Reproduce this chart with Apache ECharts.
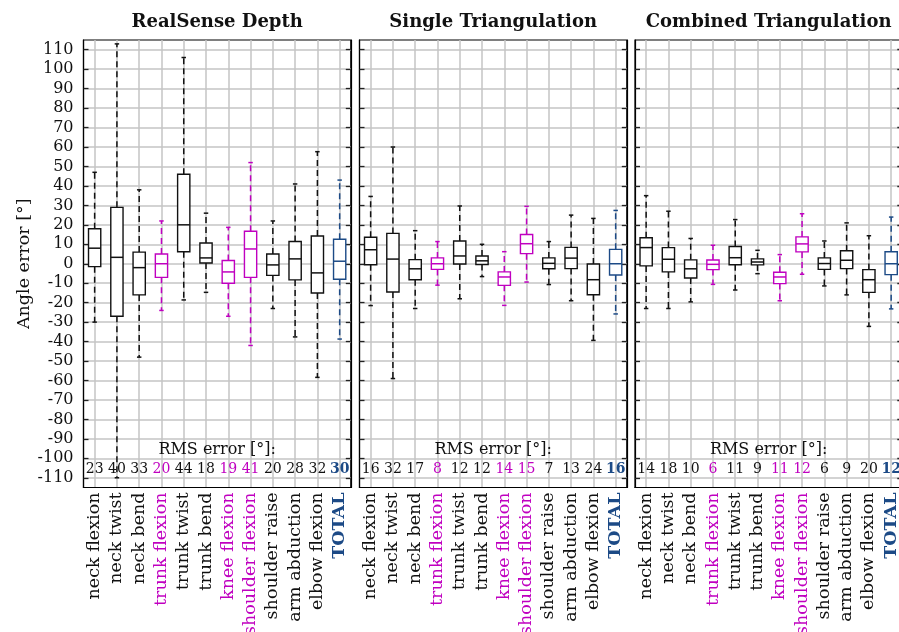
<!DOCTYPE html>
<html><head><meta charset="utf-8">
<script src="https://cdn.jsdelivr.net/npm/echarts@6/dist/echarts.min.js"></script>
<style>html,body{margin:0;padding:0;background:#fff}#c{width:899px;height:632px}</style>
</head><body><div id="c"></div><script>
const categories = ['neck flexion','neck twist','neck bend','trunk flexion','trunk twist','trunk bend','knee flexion','shoulder flexion','shoulder raise','arm abduction','elbow flexion','TOTAL'];
const panelTitles = ['RealSense Depth','Single Triangulation','Combined Triangulation'];
const yTicks = [-110,-100,-90,-80,-70,-60,-50,-40,-30,-20,-10,0,10,20,30,40,50,60,70,80,90,100,110];
// each box: [lower whisker, Q1, median, Q3, upper whisker]
const realsenseBoxes = [
  [-30,-1.5,8,18,47],[-110,-27,3.3,29,113],[-48,-16,-2,6,38],[-24,-7,0,5,22],
  [-18.6,6.2,20,46,106],[-14.7,0.4,3,10.7,26],[-27,-10,-4.2,1.7,18.7],[-42,-7,7.6,16.7,52],
  [-23,-6,-0.6,5,22],[-37.6,-8.3,2.5,11.4,41],[-58.4,-15,-4.7,14.3,57.6],[-38.7,-8,1.3,12.6,43]
];
const singleBoxes = [
  [-21.5,-0.5,7.2,13.6,34.6],[-59,-14.5,2.4,15.6,60],[-23,-8.2,-2.6,2.1,17],[-11,-2.9,0,3,11.4],
  [-18,-0.1,4,11.7,29.7],[-6.6,-0.4,1.5,4,10],[-21.4,-11.1,-6.8,-4.2,6.2],[-9.4,5.2,10.3,15,29.5],
  [-10.7,-2.6,0.2,3,11.4],[-19,-2.5,2.9,8.4,25],[-39.4,-15.9,-8.2,-0.1,23.3],[-25.8,-5.8,0,7.4,27.4]
];
const combinedBoxes = [
  [-23,-1.1,8.3,13.4,35],[-23,-4.2,2.3,8.3,27],[-19.6,-7.3,-2.6,2,13],[-10.6,-3,-0.3,1.9,9.5],
  [-13.5,-0.5,3.1,8.9,22.7],[-5.1,-0.6,0.9,2.5,6.9],[-19,-10.2,-6.8,-4.4,4.7],[-5.4,6.1,10.2,13.8,25.7],
  [-11.4,-2.9,0.1,3,11.7],[-16,-2.5,1.8,6.7,21],[-32.2,-14.7,-8.2,-3,14.4],[-23.2,-5.6,0,6.2,24]
];
const realsenseRms = [23,40,33,20,44,18,19,41,20,28,32,30];
const singleRms = [16,32,17,8,12,12,14,15,7,13,24,16];
const combinedRms = [14,18,10,6,11,9,11,12,6,9,20,12];
const magentaCats = ['trunk flexion','knee flexion','shoulder flexion'];
const totalCat = 'TOTAL';

const BLACK = '#111', MAGENTA = '#c000c0', BLUE = '#1c4a86', GRID = '#c4c4c4';
const FONT = 'DejaVu Serif';
function catStyle(name){ return name === totalCat ? 't' : (magentaCats.includes(name) ? 'm' : 'n'); }
function catColor(name){ return name === totalCat ? BLUE : (magentaCats.includes(name) ? MAGENTA : BLACK); }

const boxesList = [realsenseBoxes, singleBoxes, combinedBoxes];
const rmsList = [realsenseRms, singleRms, combinedRms];
const gridLefts = [83.5, 359.5, 635];
const gridW = 267.3, gridTop = 40, gridH = 447.5;
const catIndex = categories.map((c,k)=>k);

function richFor(size){
  return {
    n:{color:BLACK,fontFamily:FONT,fontSize:size},
    m:{color:MAGENTA,fontFamily:FONT,fontSize:size},
    t:{color:BLUE,fontFamily:FONT,fontSize:size,fontWeight:'bold'}
  };
}

function renderItem(params, api){
  const idx = api.value(0);
  const pLo = api.coord([idx, api.value(1)]);
  const pQ1 = api.coord([idx, api.value(2)]);
  const pMed = api.coord([idx, api.value(3)]);
  const pQ3 = api.coord([idx, api.value(4)]);
  const pHi = api.coord([idx, api.value(5)]);
  const band = api.size([1,0])[0];
  const half = band*0.275, cap = band*0.1;
  const color = catColor(categories[idx]);
  const x = pMed[0];
  const dash = {stroke:color,lineWidth:1.5,lineDash:[6,4]};
  const solid = {stroke:color,lineWidth:1.5};
  return {type:'group',children:[
    {type:'line',shape:{x1:x,y1:pQ3[1],x2:x,y2:pHi[1]},style:dash},
    {type:'line',shape:{x1:x,y1:pQ1[1],x2:x,y2:pLo[1]},style:dash},
    {type:'line',shape:{x1:x-cap,y1:pHi[1],x2:x+cap,y2:pHi[1]},style:solid},
    {type:'line',shape:{x1:x-cap,y1:pLo[1],x2:x+cap,y2:pLo[1]},style:solid},
    {type:'rect',shape:{x:x-half,y:pQ3[1],width:2*half,height:pQ1[1]-pQ3[1]},style:{fill:'#fff',stroke:color,lineWidth:1.4}},
    {type:'line',shape:{x1:x-half,y1:pMed[1],x2:x+half,y2:pMed[1]},style:solid}
  ]};
}

const grid=[], xAxis=[], yAxis=[], series=[];
for(let i=0;i<3;i++){
  grid.push({left:gridLefts[i],top:gridTop,width:gridW,height:gridH,show:true,borderColor:'#000',borderWidth:1.2,
    backgroundColor:'transparent',outerBoundsMode:'none',containLabel:false});
}
for(let i=0;i<3;i++){
  // auxiliary grid carrying the RMS row
  grid.push({left:gridLefts[i],top:460,width:gridW,height:27,show:false,outerBoundsMode:'none',containLabel:false});
}
const noLine = {show:false,onZero:false};
for(let i=0;i<3;i++){
  // main category axis
  xAxis.push({type:'category',gridIndex:i,data:categories,position:'bottom',
    axisLine:{show:true,onZero:false,lineStyle:{color:'#000',width:1.2}},axisTick:{show:false},splitLine:{show:false},
    axisLabel:{rotate:90,margin:5,interval:0,formatter:v=>'{'+catStyle(v)+'|'+v+'}',rich:richFor(17.5)}});
  // title axis
  xAxis.push({type:'category',gridIndex:i,data:categories,position:'top',
    axisLine:noLine,axisTick:{show:false},splitLine:{show:false},axisLabel:{show:false},
    name:panelTitles[i],nameLocation:'middle',nameGap:9,
    nameTextStyle:{fontFamily:FONT,fontSize:18,fontWeight:'bold',color:BLACK}});
  // value axis for vertical grid lines at category centres
  xAxis.push({type:'value',gridIndex:i,min:-0.5,max:11.5,position:'top',
    axisLine:noLine,axisLabel:{show:false},
    axisTick:{show:false,customValues:catIndex},
    splitLine:{show:true,lineStyle:{color:GRID,width:1.5}}});
  // RMS axis in aux grid
  const rms = rmsList[i];
  xAxis.push({type:'category',gridIndex:3+i,data:categories,position:'top',
    axisLine:noLine,axisTick:{show:false},splitLine:{show:false},
    name:'RMS error [°]:',nameLocation:'middle',nameGap:2,
    nameTextStyle:{fontFamily:FONT,fontSize:16,color:BLACK},
    axisLabel:{inside:true,margin:2,interval:0,formatter:(v,k)=>'{'+catStyle(v)+'|'+rms[k]+'}',rich:richFor(14)}});

  const yBase = {type:'value',gridIndex:i,min:-115,max:115,
    axisLine:{show:true,onZero:false,lineStyle:{color:'#000',width:1.2}},
    axisTick:{show:true,inside:true,length:5,customValues:yTicks,lineStyle:{color:'#222',width:1.3}}};
  yAxis.push(Object.assign({},yBase,{position:'left',
    splitLine:{show:true,lineStyle:{color:GRID,width:1.5}},
    axisLabel:{show:i===0,customValues:yTicks,margin:10,fontFamily:FONT,fontSize:16,color:BLACK},
    name:i===0?'Angle error [°]':'',nameLocation:'middle',nameGap:47,nameRotate:90,
    nameTextStyle:{fontFamily:FONT,fontSize:17.5,color:BLACK}}));
  yAxis.push(Object.assign({},yBase,{position:'right',splitLine:{show:false},axisLabel:{show:false}}));
}
for(let i=0;i<3;i++){
  // y axis for aux grid
  yAxis.push({type:'value',gridIndex:3+i,show:false,min:0,max:1,axisLine:noLine});
}
for(let i=0;i<3;i++){
  series.push({type:'custom',xAxisIndex:4*i,yAxisIndex:2*i,renderItem:renderItem,
    encode:{x:0,y:[1,2,3,4,5]},
    data:boxesList[i].map((b,k)=>[k].concat(b)),silent:true,clip:false,z:5});
}

const chart = echarts.init(document.getElementById('c'),null,{renderer:'canvas'});
chart.setOption({animation:false,backgroundColor:'#fff',grid,xAxis,yAxis,series});
</script></body></html>
